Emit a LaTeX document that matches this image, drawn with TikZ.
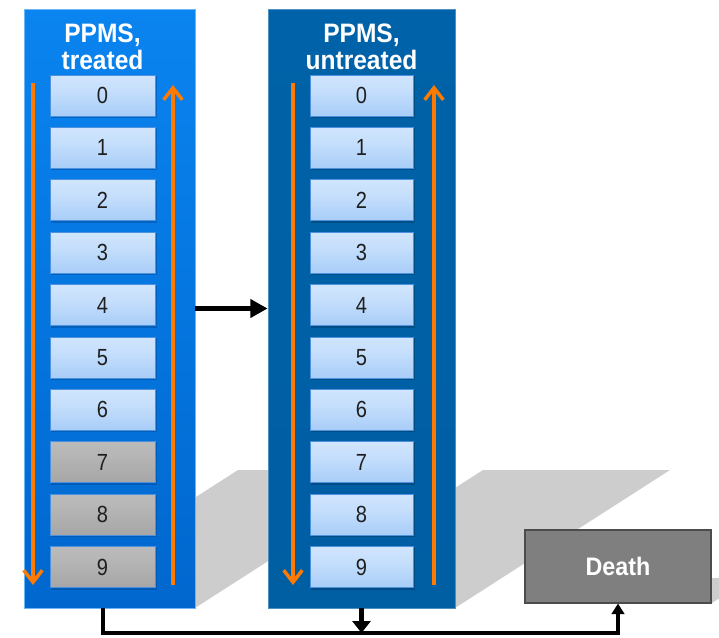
\documentclass[tikz,border=0pt]{standalone}
\usepackage{fontspec}
\setmainfont{Liberation Sans}
\newfontfamily\numfont[FakeStretch=0.86]{Liberation Sans}
\newfontfamily\titlefont[FakeStretch=0.92]{Liberation Sans}
\usetikzlibrary{arrows.meta}
\definecolor{boxA}{HTML}{0A84F0}
\definecolor{boxAb}{HTML}{0067CE}
\definecolor{boxB}{HTML}{0062A8}
\definecolor{boxBb}{HTML}{005EA3}
\definecolor{orng}{HTML}{FF7A00}
\definecolor{shadowgray}{HTML}{CDCDCD}
\definecolor{deathgray}{HTML}{7F7F7F}
\definecolor{cellline}{HTML}{4C92DE}
\definecolor{cellbot}{HTML}{5C96DC}
\definecolor{cellmid}{HTML}{A3CAF7}
\definecolor{cellhi}{HTML}{C4DEFC}
\definecolor{celltop}{HTML}{E0EDFE}
\definecolor{gbot}{HTML}{656565}
\definecolor{gmid}{HTML}{A6A6A6}
\definecolor{ghi}{HTML}{B6B6B6}
\definecolor{gtop}{HTML}{C2C2C2}
\pgfdeclareverticalshading{bluecell}{100bp}{color(0bp)=(cellbot); color(20bp)=(cellmid); color(55bp)=(cellhi); color(100bp)=(celltop)}
\pgfdeclareverticalshading{graycell}{100bp}{color(0bp)=(gbot); color(25bp)=(gmid); color(60bp)=(ghi); color(100bp)=(gtop)}
\begin{document}
\begin{tikzpicture}[x=0.75pt,y=-0.75pt,
  bigbox/.style={rectangle, inner sep=0pt, minimum height=599*0.75pt},
  cellbox/.style={rectangle, inner sep=0pt, minimum height=41*0.75pt, draw=cellline, line width=0.6pt, text=black!88, font=\numfont\fontsize{17.5}{20}\selectfont},
  bluecellbox/.style={cellbox, shading=bluecell},
  graycellbox/.style={cellbox, shading=graycell},
  titletext/.style={text=white, inner sep=0pt, anchor=base, font=\titlefont\bfseries\fontsize{20}{22}\selectfont},
  orarrow/.style={draw=orng, line width=2.6pt, -{Straight Barb[length=9pt,width=14pt]}},
  conn/.style={draw=black, line width=3pt},
  shadowshape/.style={fill=shadowgray}]
\useasboundingbox (0,0) rectangle (719,637);
\clip (0,0) rectangle (719,637);

% shadows
\fill[shadowshape] (23,608) -- (195,608) -- (410,470) -- (238,470) -- cycle;
\fill[shadowshape] (268,608) -- (455,608) -- (670,470) -- (483,470) -- cycle;
\fill[shadowshape] (525,603) -- (712,603) -- (751,578) -- (564,578) -- cycle;

% big boxes
\node[bigbox, minimum width=171*0.75pt, top color=boxA, bottom color=boxAb, draw=boxA!60!white, line width=0.6pt] (L) at (109.5,308.5) {};
\node[bigbox, minimum width=187*0.75pt, top color=boxB, bottom color=boxBb, draw=boxB!70!white, line width=0.6pt] (M) at (361.5,308.5) {};

% titles
\node[titletext] (Lt1) at (102.5,42) {PPMS,};
\node[titletext] (Lt2) at (102.5,69) {treated};
\node[titletext] (Mt1) at (361.5,42) {PPMS,};
\node[titletext] (Mt2) at (361.5,69) {untreated};

% cells
\foreach \i in {0,...,6} {
  \fill[boxAb!80!black, opacity=0.6] (50.5,{75+52.4*\i+1}) rectangle (156.5,{75+52.4*\i+43});
  \node[bluecellbox, minimum width=105*0.75pt] (L\i) at (102.5,{95.5+52.4*\i}) {\i};
}
\foreach \i in {7,8,9} {
  \fill[boxAb!80!black, opacity=0.6] (50.5,{75+52.4*\i+1}) rectangle (156.5,{75+52.4*\i+43});
  \node[graycellbox, minimum width=105*0.75pt] (L\i) at (102.5,{95.5+52.4*\i}) {\i};
}
\foreach \i in {0,...,9} {
  \fill[boxBb!70!black, opacity=0.6] (310.5,{75+52.4*\i+1}) rectangle (414.5,{75+52.4*\i+43});
  \node[bluecellbox, minimum width=103*0.75pt] (M\i) at (361.5,{95.5+52.4*\i}) {\i};
}

% orange arrows
\coordinate (la1) at (33,83);  \coordinate (la2) at (33,585);
\coordinate (lb1) at (173,585); \coordinate (lb2) at (173,85);
\coordinate (ma1) at (293,83);  \coordinate (ma2) at (293,585);
\coordinate (mb1) at (434,585); \coordinate (mb2) at (434,85);
\draw[orarrow] (la1) -- (la2);
\draw[orarrow] (lb1) -- (lb2);
\draw[orarrow] (ma1) -- (ma2);
\draw[orarrow] (mb1) -- (mb2);

% death box
\node[rectangle, inner sep=0pt, minimum width=186*0.75pt, minimum height=73*0.75pt, fill=deathgray, draw=black!70, line width=0.8pt, text=white, font=\titlefont\bfseries\fontsize{19}{21}\selectfont] (D) at (618,566.5) {Death};

% connectors
\draw[conn, line width=3.6pt, -{Triangle[length=13pt,width=13.5pt]}] (L.east) -- (M.west);
\coordinate (j) at (102.5,633);
\draw[conn, -{Triangle[length=8pt,width=9.5pt]}] (L0.south |- L.south) -- (j) -| (D.south);
\draw[conn, line width=3.6pt, -{Triangle[length=9pt,width=13.5pt]}] (M.south) -- (M.south |- j);
\end{tikzpicture}
\end{document}
